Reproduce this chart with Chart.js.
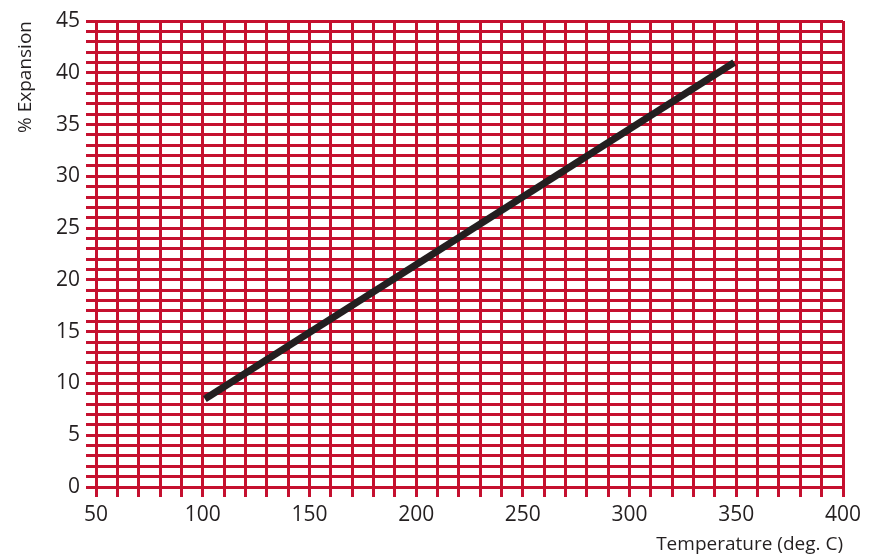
<!DOCTYPE html>
<html>
<head>
<meta charset="utf-8">
<script src="https://cdn.jsdelivr.net/npm/chart.js@4.4.1/dist/chart.umd.min.js"></script>
<style>
  html, body { margin: 0; padding: 0; background: #fff; }
  #wrap { width: 878px; height: 560px; position: relative; }
</style>
</head>
<body>
<div id="wrap"><canvas id="expChart"></canvas></div>
<script>
// values
const temperature = [101, 349];
const expansion = [8.5, 41];
const xGridValues = [50, 60, 70, 80, 90, 100, 110, 120, 130, 140, 150, 160, 170, 180, 190, 200,
  210, 220, 230, 240, 250, 260, 270, 280, 290, 300, 310, 320, 330, 340, 350, 360, 370, 380, 390, 400];
const xLabelValues = [50, 100, 150, 200, 250, 300, 350, 400];
const yLabelValues = [0, 5, 10, 15, 20, 25, 30, 35, 40, 45];

const RED = '#c5102f';
const INK = '#231f20';
const FONT = "'Open Sans', sans-serif";

const points = temperature.map((t, i) => ({ x: t, y: expansion[i] }));

const ctx = document.getElementById('expChart').getContext('2d');
new Chart(ctx, {
  type: 'line',
  data: {
    datasets: [
      {
        data: points,
        borderColor: INK,
        borderWidth: 7,
        borderCapStyle: 'butt',
        pointRadius: 0,
        fill: false,
        tension: 0,
      },
    ],
  },
  options: {
    responsive: true,
    maintainAspectRatio: false,
    animation: false,
    layout: { padding: { top: 21, right: 35, left: 0, bottom: 0 } },
    plugins: { legend: { display: false }, tooltip: { enabled: false } },
    scales: {
      x: {
        type: 'linear',
        min: 45.3,
        max: 400,
        afterBuildTicks: (scale) => {
          scale.ticks = xGridValues.map((v) => ({ value: v }));
        },
        afterFit: (scale) => { scale.height = 73; },
        border: { display: false },
        grid: { color: RED, lineWidth: 3, drawTicks: true, tickLength: 10, tickColor: RED, tickWidth: 3 },
        ticks: {
          color: INK,
          font: { family: FONT, size: 21 },
          padding: 5,
          maxRotation: 0,
          autoSkip: false,
          callback: (v) => (xLabelValues.includes(v) ? String(v) : ''),
        },
        title: {
          display: true,
          text: 'Temperature (deg. C)',
          align: 'end',
          color: INK,
          font: { family: FONT, size: 19 },
          padding: { top: 0, bottom: 4 },
        },
      },
      y: {
        type: 'linear',
        min: 0,
        max: 45,
        afterFit: (scale) => { scale.width = 86; },
        border: { display: false },
        grid: { color: RED, lineWidth: 3, drawTicks: false },
        ticks: {
          stepSize: 1,
          color: INK,
          font: { family: FONT, size: 21 },
          padding: 6,
          autoSkip: false,
          callback: (v) => (yLabelValues.includes(v) ? String(v) : ''),
        },
        title: {
          display: true,
          text: '% Expansion',
          align: 'end',
          color: INK,
          font: { family: FONT, size: 19 },
          padding: { top: 14, bottom: 0 },
        },
      },
    },
  },
});
</script>
</body>
</html>
